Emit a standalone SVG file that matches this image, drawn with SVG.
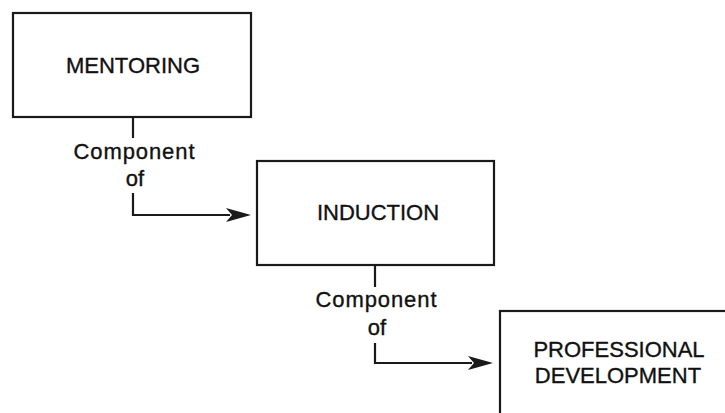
<svg xmlns="http://www.w3.org/2000/svg" width="725" height="413" viewBox="0 0 725 413">
<style>
.box{fill:#fff;stroke:#1a1a1a;stroke-width:2.2}
.lbl{font-family:"Liberation Sans",Arial,sans-serif;font-size:22px;fill:#111;stroke:#111;stroke-width:0.35;text-anchor:middle}
.ln{fill:none;stroke:#1a1a1a;stroke-width:2.2}
.ah{fill:#1a1a1a}
</style>
<rect width="725" height="413" fill="#fff"/>
<g id="mentoring">
<rect class="box" x="13" y="13" width="238" height="104"/>
<text class="lbl" x="133" y="73">MENTORING</text>
</g>
<g id="induction">
<rect class="box" x="257" y="161" width="237" height="104"/>
<text class="lbl" x="378" y="220">INDUCTION</text>
</g>
<g id="professional-development">
<rect class="box" x="500" y="311" width="260" height="130"/>
<text class="lbl" x="619" y="357">PROFESSIONAL</text>
<text class="lbl" x="618" y="383">DEVELOPMENT</text>
</g>
<g id="connectors">
<path class="ln" d="M133 117 V138"/>
<text class="lbl" x="134" y="159" textLength="121">Component</text>
<text class="lbl" x="135" y="186">of</text>
<path class="ln" d="M133 193 V215 H230"/>
<polygon class="ah" points="226,208 251,215 226,222 232,215"/>
<path class="ln" d="M375 265 V287"/>
<text class="lbl" x="376" y="307" textLength="121">Component</text>
<text class="lbl" x="377" y="335">of</text>
<path class="ln" d="M375 343 V363 H472"/>
<polygon class="ah" points="468,356 493,363 468,370 474,363"/>
</g>
</svg>
